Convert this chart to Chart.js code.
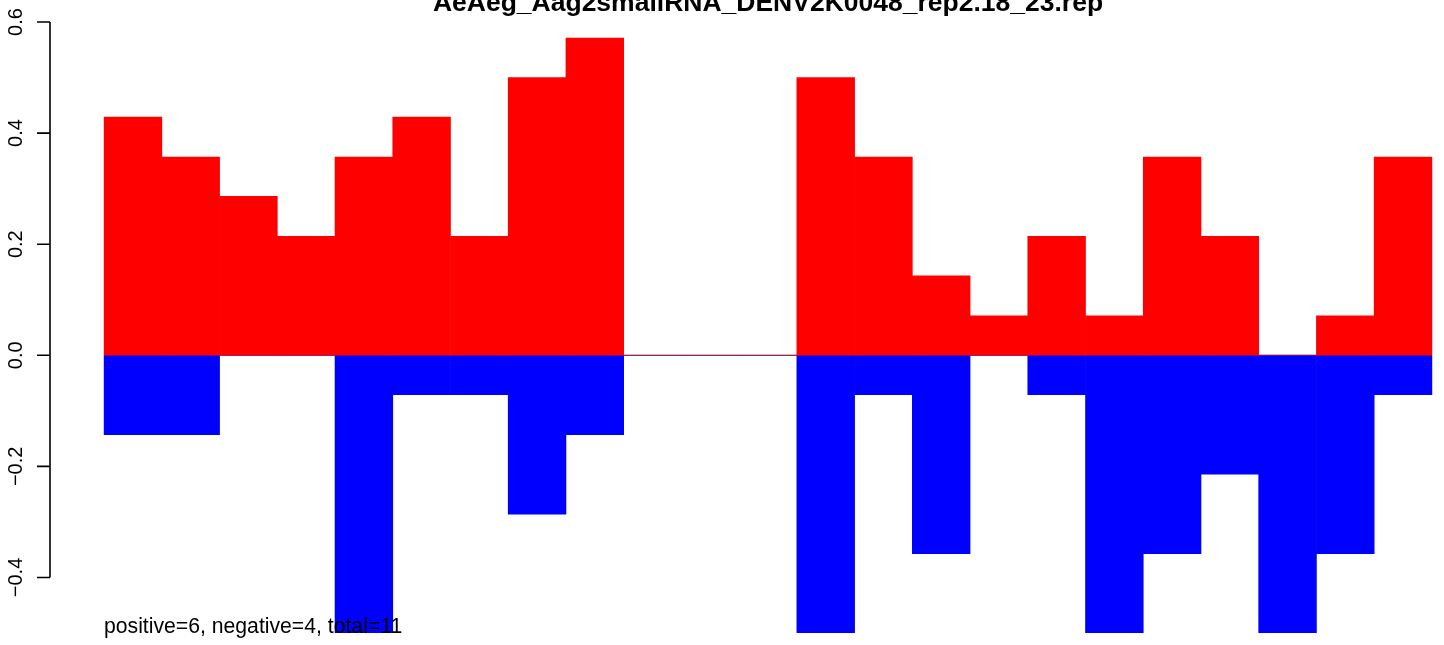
<!DOCTYPE html>
<html>
<head>
<meta charset="utf-8">
<script src="https://cdn.jsdelivr.net/npm/chart.js@4/dist/chart.umd.min.js"></script>
<style>
html,body{margin:0;padding:0;background:#fff;overflow:hidden;width:1444px;height:645px;}
canvas{display:block;}
</style>
</head>
<body>
<canvas id="c" width="1500" height="645"></canvas>
<script>
const titleText = "AeAeg_Aag2smallRNA_DENV2K0048_rep2.18_23.rep";
const noteText = "positive=6, negative=4, total=11";
const categories = Array.from({length: 23}, (_, i) => i + 1);
const positive = [0.429,0.357,0.286,0.214,0.357,0.429,0.214,0.5,0.571,0,0,0,0.5,0.357,0.143,0.071,0.214,0.071,0.357,0.214,0,0.071,0.357];
const negative = [-0.143,-0.143,0,0,-0.5,-0.071,-0.071,-0.286,-0.143,0,0,0,-0.5,-0.071,-0.357,0,-0.071,-0.5,-0.357,-0.214,-0.5,-0.357,-0.071];
const yTicks = [-0.4,-0.2,0,0.2,0.4,0.6];
const yTickLabels = ["\u22120.4","\u22120.2","0.0","0.2","0.4","0.6"];

const FONT = '"Liberation Sans", Arial, Helvetica, sans-serif';

const rPlot = {
  id: 'rPlot',
  afterDraw(chart) {
    const ctx = chart.ctx;
    const y = chart.scales.y;
    const area = chart.chartArea;
    const axX = 50;
    ctx.save();
    ctx.strokeStyle = '#000';
    ctx.lineWidth = 1.6;
    ctx.beginPath();
    ctx.moveTo(axX, y.getPixelForValue(yTicks[0]));
    ctx.lineTo(axX, y.getPixelForValue(yTicks[yTicks.length - 1]));
    yTicks.forEach(v => {
      const py = y.getPixelForValue(v);
      ctx.moveTo(axX, py);
      ctx.lineTo(axX - 13, py);
    });
    ctx.stroke();
    ctx.fillStyle = '#000';
    ctx.font = '20px ' + FONT;
    ctx.textAlign = 'center';
    ctx.textBaseline = 'alphabetic';
    yTicks.forEach((v, i) => {
      const py = y.getPixelForValue(v);
      ctx.save();
      ctx.translate(22, py);
      ctx.rotate(-Math.PI / 2);
      ctx.fillText(yTickLabels[i], 0, 0);
      ctx.restore();
    });
    ctx.font = 'bold 26.5px ' + FONT;
    ctx.textAlign = 'center';
    ctx.fillText(titleText, (area.left + area.right) / 2, 11);
    ctx.font = '21.2px ' + FONT;
    ctx.textAlign = 'left';
    ctx.fillText(noteText, 104, 633);
    ctx.restore();
  }
};

new Chart(document.getElementById('c'), {
  type: 'bar',
  data: {
    datasets: [
      {
        label: 'positive',
        data: positive.map((v, i) => ({x: i + 0.5, y: v})),
        backgroundColor: '#ff0000',
        borderWidth: 0,
        grouped: false,
        barPercentage: 1,
        categoryPercentage: 1,
        order: 1
      },
      {
        label: 'negative',
        data: negative.map((v, i) => ({x: i + 0.5, y: v})),
        backgroundColor: '#0000ff',
        borderWidth: 0,
        grouped: false,
        barPercentage: 1,
        categoryPercentage: 1,
        order: 1
      },
      {
        type: 'line',
        label: 'zero',
        data: [{x: 0, y: 0}, {x: categories.length, y: 0}],
        borderColor: '#808080',
        borderWidth: 1.5,
        pointRadius: 0,
        order: 2
      }
    ]
  },
  options: {
    responsive: false,
    animation: false,
    devicePixelRatio: 1,
    layout: {padding: {left: 51, right: 15, top: 22, bottom: 12}},
    plugins: {legend: {display: false}, tooltip: {enabled: false}, title: {display: false}},
    scales: {
      x: {type: 'linear', offset: false, min: -0.92, max: 23.92, display: false, grid: {display: false, offset: false}},
      y: {type: 'linear', min: -0.5, max: 0.6, display: false, grid: {display: false}}
    }
  },
  plugins: [rPlot]
});
</script>
</body>
</html>
